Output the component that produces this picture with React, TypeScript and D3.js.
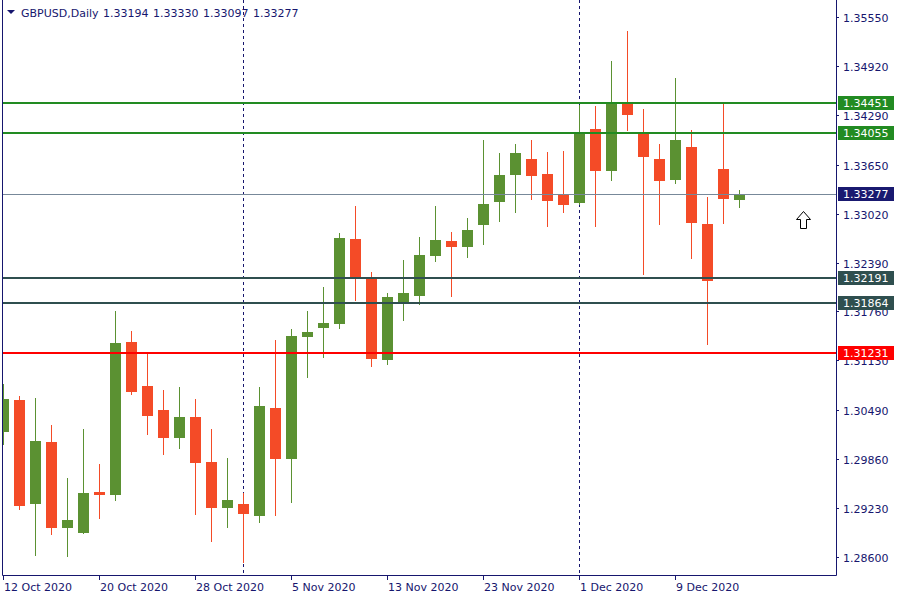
import React, { useEffect, useRef } from 'react';
import * as d3 from 'd3';

// daily bars, GBPUSD
const dates = [
  '2020-10-12', '2020-10-13', '2020-10-14', '2020-10-15', '2020-10-16', '2020-10-19', '2020-10-20',
  '2020-10-21', '2020-10-22', '2020-10-23', '2020-10-26', '2020-10-27', '2020-10-28', '2020-10-29',
  '2020-10-30', '2020-11-02', '2020-11-03', '2020-11-04', '2020-11-05', '2020-11-06', '2020-11-09',
  '2020-11-10', '2020-11-11', '2020-11-12', '2020-11-13', '2020-11-16', '2020-11-17', '2020-11-18',
  '2020-11-19', '2020-11-20', '2020-11-23', '2020-11-24', '2020-11-25', '2020-11-26', '2020-11-27',
  '2020-11-30', '2020-12-01', '2020-12-02', '2020-12-03', '2020-12-04', '2020-12-07', '2020-12-08',
  '2020-12-09', '2020-12-10', '2020-12-11', '2020-12-14', '2020-12-15',
];
const opens = [
  1.30210, 1.30619, 1.29283, 1.30078, 1.28970, 1.28905, 1.29433, 1.29395, 1.31366, 1.30799,
  1.30490, 1.30133, 1.30400, 1.29820, 1.29227, 1.29279, 1.29124, 1.30516, 1.29859, 1.31431,
  1.31547, 1.31598, 1.32693, 1.32191, 1.31134, 1.31856, 1.31959, 1.32474, 1.32668, 1.32590,
  1.32874, 1.33170, 1.33518, 1.33724, 1.33531, 1.33273, 1.33157, 1.34111, 1.33570, 1.34446,
  1.34072, 1.33724, 1.33454, 1.33879, 1.32887, 1.33595, 1.33194,
];
const highs = [
  1.30825, 1.30670, 1.30645, 1.30297, 1.29614, 1.30245, 1.29794, 1.31766, 1.31508, 1.31224,
  1.30748, 1.30786, 1.30632, 1.30245, 1.29872, 1.29421, 1.30786, 1.31392, 1.31534, 1.31766,
  1.32075, 1.32771, 1.33119, 1.32268, 1.31998, 1.32423, 1.32719, 1.33119, 1.32784, 1.32964,
  1.33969, 1.33801, 1.33917, 1.33969, 1.33814, 1.33827, 1.34420, 1.34407, 1.34987, 1.35373,
  1.34368, 1.33917, 1.34768, 1.34098, 1.33234, 1.34446, 1.33330,
];
const lows = [
  1.30043, 1.29202, 1.28609, 1.28879, 1.28596, 1.28892, 1.29086, 1.29317, 1.30683, 1.30168,
  1.29910, 1.29988, 1.29137, 1.28789, 1.28970, 1.28519, 1.29034, 1.29124, 1.29292, 1.30902,
  1.31160, 1.31534, 1.31895, 1.31044, 1.31070, 1.31637, 1.31843, 1.32397, 1.31946, 1.32449,
  1.32616, 1.32912, 1.33028, 1.33196, 1.32848, 1.33028, 1.33131, 1.32848, 1.33441, 1.34085,
  1.32229, 1.32874, 1.33402, 1.32436, 1.31328, 1.32887, 1.33097,
];
const closes = [
  1.30632, 1.29257, 1.30091, 1.28970, 1.29073, 1.29421, 1.29395, 1.31353, 1.30722, 1.30413,
  1.30133, 1.30400, 1.29807, 1.29227, 1.29330, 1.29150, 1.30542, 1.29859, 1.31444, 1.31495,
  1.31611, 1.32706, 1.32191, 1.31147, 1.31946, 1.31998, 1.32487, 1.32680, 1.32590, 1.32809,
  1.33144, 1.33518, 1.33801, 1.33505, 1.33183, 1.33131, 1.34072, 1.33570, 1.34459, 1.34291,
  1.33750, 1.33441, 1.33969, 1.32900, 1.32152, 1.33209, 1.33277,
];

const priceTicks = [1.3555, 1.3492, 1.3429, 1.3365, 1.3302, 1.3239, 1.3176, 1.3113, 1.3049, 1.2986, 1.2923, 1.286];
const dateTicks = ['2020-10-12', '2020-10-20', '2020-10-28', '2020-11-05', '2020-11-13', '2020-11-23', '2020-12-01', '2020-12-09'];
const periodSeparators = ['2020-11-02', '2020-12-01'];
const levels = [1.34451, 1.34055, 1.32191, 1.31864, 1.31231];
const bidPrice = 1.33277;
const arrowSlot = 50;
const arrowPrice = 1.3305;

const W = 900;
const H = 600;

const App: React.FC = () => {
  const svgRef = useRef<SVGSVGElement | null>(null);

  useEffect(() => {
    const left = 2, right = 836, bottom = 575;
    const fg = '#16166e';
    const bull = '#5b9132';
    const bear = '#f44b27';
    const levelColors = ['#228b22', '#228b22', '#2f4f4f', '#2f4f4f', '#ff0000'];
    const font = 'DejaVu Sans, sans-serif';

    const svg = d3.select(svgRef.current);
    svg.selectAll('*').remove();
    svg.attr('width', W).attr('height', H);

    svg.append('rect').attr('width', W).attr('height', H).attr('fill', '#fff');

    const x = d3.scaleLinear().domain([0, dates.length - 1]).range([3, 3 + 16 * (dates.length - 1)]);
    const y = d3.scaleLinear().domain([1.286, 1.3555]).range([556.7, 17.3]);
    const idx = (d: string) => dates.indexOf(d);

    svg.append('defs').append('clipPath').attr('id', 'plot')
      .append('rect').attr('x', left + 1).attr('y', 0).attr('width', right - left - 1).attr('height', bottom);

    const plot = svg.append('g').attr('clip-path', 'url(#plot)');

    // month separators
    periodSeparators.forEach(d => {
      plot.append('line')
        .attr('x1', x(idx(d)) + 0.5).attr('x2', x(idx(d)) + 0.5)
        .attr('y1', 0).attr('y2', bottom)
        .attr('stroke', fg).attr('stroke-dasharray', '3,3');
    });

    // candles
    const rows = dates.map((d, i) => ({ d, i, o: opens[i], h: highs[i], l: lows[i], c: closes[i] }));
    const candle = plot.selectAll('g.candle').data(rows).enter().append('g')
      .attr('fill', r => (r.c >= r.o ? bull : bear))
      .attr('stroke', r => (r.c >= r.o ? bull : bear));
    candle.append('line')
      .attr('x1', r => x(r.i) + 0.5).attr('x2', r => x(r.i) + 0.5)
      .attr('y1', r => Math.round(y(r.h))).attr('y2', r => Math.round(y(r.l)));
    candle.append('rect')
      .attr('stroke', 'none')
      .attr('x', r => x(r.i) - 5)
      .attr('width', 11)
      .attr('y', r => Math.round(y(Math.max(r.o, r.c))))
      .attr('height', r => Math.max(1, Math.round(y(Math.min(r.o, r.c))) - Math.round(y(Math.max(r.o, r.c)))));

    // bid line
    plot.append('line')
      .attr('x1', left).attr('x2', right)
      .attr('y1', Math.round(y(bidPrice)) + 0.5).attr('y2', Math.round(y(bidPrice)) + 0.5)
      .attr('stroke', '#778899');

    // horizontal levels
    levels.forEach((p, k) => {
      plot.append('line')
        .attr('x1', left).attr('x2', right)
        .attr('y1', Math.round(y(p))).attr('y2', Math.round(y(p)))
        .attr('stroke', levelColors[k]).attr('stroke-width', 2);
    });

    // arrow object
    const ax = x(arrowSlot) + 0.5, ay = Math.round(y(arrowPrice)) + 0.5;
    plot.append('path')
      .attr('d', `M${ax},${ay} L${ax + 7},${ay + 8} L${ax + 3},${ay + 8} L${ax + 3},${ay + 17} L${ax - 3},${ay + 17} L${ax - 3},${ay + 8} L${ax - 7},${ay + 8} Z`)
      .attr('fill', '#fff').attr('stroke', '#000');

    // frame
    svg.append('path')
      .attr('d', `M${left + 0.5},0 V${bottom + 0.5} H${right + 0.5} V0`)
      .attr('fill', 'none').attr('stroke', fg);

    // price axis
    const pa = svg.append('g').attr('font-family', font).attr('font-size', 11).attr('fill', fg);
    priceTicks.forEach(p => {
      const ty = Math.round(y(p)) + 0.5;
      pa.append('line').attr('x1', right).attr('x2', right + 3).attr('y1', ty).attr('y2', ty).attr('stroke', fg);
      pa.append('text').attr('x', 843).attr('y', ty + 4).text(p.toFixed(5));
    });

    // price labels for levels and bid
    const tags = levels.map((p, k) => ({ p, col: levelColors[k] })).concat([{ p: bidPrice, col: '#191970' }]);
    tags.forEach(t => {
      const ty = Math.round(y(t.p));
      svg.append('rect').attr('x', 838).attr('y', ty - 7).attr('width', 56).attr('height', 14).attr('fill', t.col);
      svg.append('text').attr('x', 843).attr('y', ty + 4)
        .attr('font-family', font).attr('font-size', 11).attr('fill', '#fff')
        .text(t.p.toFixed(5));
    });

    // time axis
    const fmt = d3.timeFormat('%-d %b %Y');
    const parse = d3.timeParse('%Y-%m-%d');
    const ta = svg.append('g').attr('font-family', font).attr('font-size', 11).attr('fill', fg);
    dateTicks.forEach(d => {
      const tx = x(idx(d)) + 0.5;
      ta.append('line').attr('x1', tx).attr('x2', tx).attr('y1', bottom).attr('y2', bottom + 5).attr('stroke', fg);
      ta.append('text').attr('x', tx + 0.5).attr('y', 591).text(fmt(parse(d) as Date));
    });

    // header
    const last = dates.length - 1;
    svg.append('path').attr('d', 'M7,10 L15,10 L11,14 Z').attr('fill', fg);
    const hd = svg.append('g').attr('font-family', font).attr('font-size', 11).attr('fill', fg);
    hd.append('text').attr('x', 21).attr('y', 17).text('GBPUSD,Daily');
    [opens[last], highs[last], lows[last], closes[last]].forEach((v, k) => {
      hd.append('text').attr('x', 103 + 50 * k).attr('y', 17).text(v.toFixed(5));
    });
  }, []);

  return <svg ref={svgRef} style={{ position: 'absolute', left: 0, top: 0, display: 'block' }} />;
};

export default App;
